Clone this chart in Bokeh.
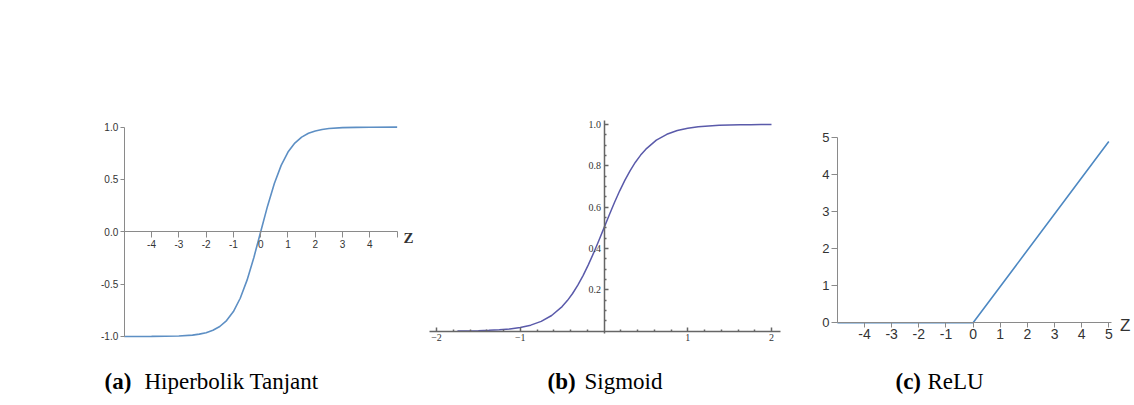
from bokeh.plotting import figure
from bokeh.models import Range1d, LinearAxis, FixedTicker
from bokeh.layouts import column, row
from bokeh.core.properties import value
from bokeh.embed import file_html
from bokeh.resources import INLINE

# ---------------- data ----------------
tanh_x = [-5, -4, -3.5, -3, -2.5, -2.25, -2, -1.75, -1.5, -1.25, -1, -0.75, -0.5, -0.25,
          0, 0.25, 0.5, 0.75, 1, 1.25, 1.5, 1.75, 2, 2.25, 2.5, 3, 3.5, 4, 5]
tanh_y = [-1.0, -0.999, -0.998, -0.995, -0.987, -0.978, -0.964, -0.941, -0.905, -0.848, -0.762, -0.635, -0.462, -0.245,
          0.0, 0.245, 0.462, 0.635, 0.762, 0.848, 0.905, 0.941, 0.964, 0.978, 0.987, 0.995, 0.998, 0.999, 1.0]

sig_x = [-1.75, -1.625, -1.5, -1.375, -1.25, -1.125, -1.0, -0.875, -0.75, -0.625, -0.5, -0.4375, -0.375, -0.3125,
         -0.25, -0.1875, -0.125, -0.0625, 0.0, 0.0625, 0.125, 0.1875, 0.25, 0.3125, 0.375, 0.4375, 0.5, 0.625,
         0.75, 0.875, 1.0, 1.125, 1.25, 1.375, 1.5, 1.625, 1.75, 1.875, 2.0]
sig_y = [0.0009, 0.0015, 0.0025, 0.0041, 0.0067, 0.0110, 0.0180, 0.0293, 0.0474, 0.0759, 0.1192, 0.1480, 0.1824, 0.2227,
         0.2689, 0.3208, 0.3775, 0.4378, 0.5, 0.5622, 0.6225, 0.6792, 0.7311, 0.7773, 0.8176, 0.8520, 0.8808, 0.9241,
         0.9526, 0.9707, 0.9820, 0.9890, 0.9933, 0.9959, 0.9975, 0.9985, 0.9991, 0.9995, 0.9997]

relu_x = [-5, 0, 5]
relu_y = [0, 0, 4.9]

tanh_xticks = [-5, -4, -3, -2, -1, 0, 1, 2, 3, 4, 5]
tanh_xlabels = ["", "-4", "-3", "-2", "-1", "0", "1", "2", "3", "4", ""]
tanh_yticks = [-1.0, -0.5, 0.0, 0.5, 1.0]
tanh_ylabels = ["-1.0", "-0.5", "0.0", "0.5", "1.0"]

sig_xticks = [-2, -1, 1, 2]
sig_xlabels = ["\u22122", "\u22121", "1", "2"]
sig_xminor = [-1.8, -1.6, -1.4, -1.2, -0.8, -0.6, -0.4, -0.2, 0.2, 0.4, 0.6, 0.8, 1.2, 1.4, 1.6, 1.8]
sig_yticks = [0.2, 0.4, 0.6, 0.8, 1.0]
sig_ylabels = ["0.2", "0.4", "0.6", "0.8", "1.0"]
sig_yminor = [0.05, 0.1, 0.15, 0.25, 0.3, 0.35, 0.45, 0.5, 0.55, 0.65, 0.7, 0.75, 0.85, 0.9, 0.95]

relu_xticks = [-4, -3, -2, -1, 0, 1, 2, 3, 4, 5]
relu_xlabels = ["-4", "-3", "-2", "-1", "0", "1", "2", "3", "4", "5"]
relu_yticks = [0, 1, 2, 3, 4, 5]
relu_ylabels = ["0", "1", "2", "3", "4", "5"]

caption_tags = ["(a)", "(b)", "(c)"]
caption_texts = ["Hiperbolik Tanjant", "Sigmoid", "ReLU"]

# ---------------- layout helpers ----------------
H = 362          # plot row height (page y 0..362)
CAP_H = 40       # caption strip height (page y 362..402)
SANS = "Liberation Sans"
SERIF = "Liberation Serif"


def make_fig(width, wx0, x0_px, x_unit, y0_px, y_unit):
    """Figure whose frame fills it; ranges put the data origin at (x0_px, y0_px) in page pixels."""
    xs = (wx0 - x0_px) / x_unit
    xe = (wx0 + width - x0_px) / x_unit
    yt = y0_px / y_unit
    yb = (y0_px - H) / y_unit
    p = figure(width=width, height=H, x_range=Range1d(xs, xe), y_range=Range1d(yb, yt),
               x_axis_type=None, y_axis_type=None, toolbar_location=None,
               output_backend="svg", min_border=0, title=None)
    p.outline_line_color = None
    p.background_fill_color = "white"
    p.border_fill_color = "white"
    return p


def style_axis(ax, color, width, font, size, tcolor, tick_in, tick_out, standoff):
    ax.axis_line_color = color
    ax.axis_line_width = width
    ax.major_tick_line_color = color
    ax.major_tick_line_width = width
    ax.minor_tick_line_color = color
    ax.minor_tick_line_width = width
    ax.major_tick_in = tick_in
    ax.major_tick_out = tick_out
    ax.minor_tick_in = 0
    ax.minor_tick_out = 0
    ax.major_label_text_font = font
    ax.major_label_text_font_size = size
    ax.major_label_text_color = tcolor
    ax.major_label_standoff = standoff


# ---------------- (a) tanh ----------------
pa = make_fig(428, 0, 260.2, 27.29, 231.3, 104.65)
pa.line(tanh_x, tanh_y, line_color="#5d8fc4", line_width=1.6)
ax_a_x = LinearAxis(fixed_location=0, bounds=(-5, 5),
                    ticker=FixedTicker(ticks=tanh_xticks, minor_ticks=[]),
                    major_label_overrides=dict(zip(tanh_xticks, tanh_xlabels)))
style_axis(ax_a_x, "#8a8a8a", 1, SANS, "10px", "#333333", 0, 6, 2)
pa.add_layout(ax_a_x, "below")
ax_a_y = LinearAxis(fixed_location=-5, bounds=(-1, 1),
                    ticker=FixedTicker(ticks=tanh_yticks, minor_ticks=[]),
                    major_label_overrides=dict(zip(tanh_yticks, tanh_ylabels)))
style_axis(ax_a_y, "#8a8a8a", 1, SANS, "10px", "#333333", 0, 4, 2)
pa.add_layout(ax_a_y, "left")
pa.text(x=[5.42], y=[-0.064], text=["Z"], text_font=value(SERIF),
        text_font_style="bold", text_font_size="15px", text_color="#333333",
        text_align="center", text_baseline="middle")

# ---------------- (b) sigmoid ----------------
pb = make_fig(372, 428, 603.5, 83.75, 330.7, 206.7)
pb.line(sig_x, sig_y, line_color="#5a5aaa", line_width=1.5)
ax_b_x = LinearAxis(fixed_location=0, bounds=(-2.08, 2.11),
                    ticker=FixedTicker(ticks=sig_xticks, minor_ticks=sig_xminor),
                    major_label_overrides=dict(zip(sig_xticks, sig_xlabels)))
style_axis(ax_b_x, "#666666", 1.5, SERIF, "10px", "#333333", 4, 0, 3)
ax_b_x.minor_tick_in = 2
pb.add_layout(ax_b_x, "below")
ax_b_y = LinearAxis(fixed_location=0, bounds=(-0.01, 1.02),
                    ticker=FixedTicker(ticks=sig_yticks, minor_ticks=sig_yminor),
                    major_label_overrides=dict(zip(sig_yticks, sig_ylabels)))
style_axis(ax_b_y, "#666666", 1.5, SERIF, "10px", "#333333", 4, 0, 3)
ax_b_y.minor_tick_in = 2
pb.add_layout(ax_b_y, "left")

# ---------------- (c) ReLU ----------------
pc = make_fig(332, 800, 972.6, 27.14, 322.3, 37.0)
pc.line(relu_x, relu_y, line_color="#4d88c2", line_width=1.6)
ax_c_x = LinearAxis(fixed_location=0, bounds=(-5, 5.1),
                    ticker=FixedTicker(ticks=relu_xticks, minor_ticks=[]),
                    major_label_overrides=dict(zip(relu_xticks, relu_xlabels)))
style_axis(ax_c_x, "#8a8a8a", 1, SANS, "14px", "#333333", 0, 5, 1)
pc.add_layout(ax_c_x, "below")
ax_c_y = LinearAxis(fixed_location=-5, bounds=(0, 5),
                    ticker=FixedTicker(ticks=relu_yticks, minor_ticks=[]),
                    major_label_overrides=dict(zip(relu_yticks, relu_ylabels)))
style_axis(ax_c_y, "#8a8a8a", 1, SANS, "13px", "#333333", 0, 6, 2)
pc.add_layout(ax_c_y, "left")
pc.text(x=[5.6], y=[-0.08], text=["Z"], text_font=value(SANS),
        text_font_size="17px", text_color="#333333",
        text_align="center", text_baseline="middle")

# ---------------- captions ----------------
pcap = figure(width=1132, height=CAP_H, x_range=Range1d(0, 1132), y_range=Range1d(CAP_H, 0),
              x_axis_type=None, y_axis_type=None, toolbar_location=None,
              output_backend="svg", min_border=0, title=None)
pcap.outline_line_color = None
pcap.background_fill_color = "white"
pcap.border_fill_color = "white"
tag_x = [104, 547, 895]
txt_x = [144, 584, 927]
cap_y = [19, 19, 19]
pcap.text(x=tag_x, y=cap_y, text=caption_tags, text_font=value(SERIF),
          text_font_style="bold", text_font_size="23px", text_color="#000000",
          text_align="left", text_baseline="middle")
pcap.text(x=txt_x, y=cap_y, text=caption_texts, text_font=value(SERIF),
          text_font_size="23px", text_color="#000000",
          text_align="left", text_baseline="middle")

layout = column(row(pa, pb, pc, spacing=0), pcap, spacing=0)
open("out.html", "w").write(file_html(layout, INLINE))
